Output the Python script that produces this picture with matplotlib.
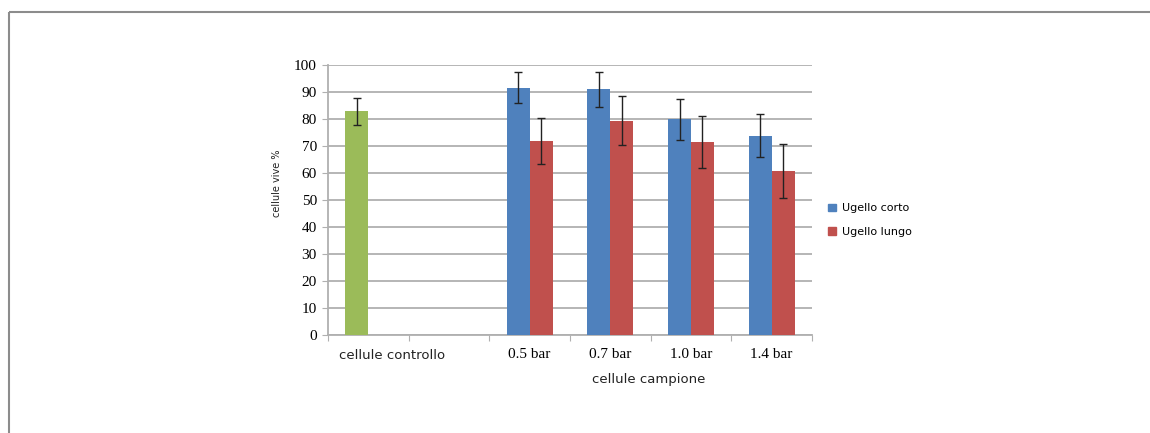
import numpy as np
import matplotlib.pyplot as plt
from matplotlib.patches import Patch
from matplotlib.lines import Line2D

# data
control_value = 82.7
control_err = 5.1
pressures = ["0.5 bar", "0.7 bar", "1.0 bar", "1.4 bar"]
corto = [91.5, 90.9, 79.8, 73.7]
corto_err = [5.7, 6.4, 7.5, 8.0]
lungo = [71.8, 79.3, 71.4, 60.8]
lungo_err = [8.5, 9.0, 9.5, 10.0]

green = "#9BBB59"
blue = "#4F81BD"
red = "#C0504D"
grid_col = "#B0B0B0"

fig = plt.figure(figsize=(11.5, 4.33), dpi=100)
W, H = 1150, 433
ax = fig.add_axes([328 / W, (H - 335) / H, (812 - 328) / W, (335 - 64.7) / H])

width = 0.285
slots = np.arange(len(pressures)) + 2.5

# control sample (first slot)
ax.bar(0.5 - width / 2, control_value, width, color=green, zorder=3)
ax.errorbar(0.5 - width / 2, control_value, yerr=control_err, fmt="none",
            ecolor="#222222", elinewidth=1, capsize=3, capthick=1, zorder=4)

ax.bar(slots - width / 2, corto, width, color=blue, zorder=3)
ax.bar(slots + width / 2, lungo, width, color=red, zorder=3)
ax.errorbar(slots - width / 2, corto, yerr=corto_err, fmt="none",
            ecolor="#222222", elinewidth=1, capsize=3, capthick=1, zorder=4)
ax.errorbar(slots + width / 2, lungo, yerr=lungo_err, fmt="none",
            ecolor="#222222", elinewidth=1, capsize=3, capthick=1, zorder=4)

ax.set_xlim(0, 6)
ax.set_ylim(0, 100)
ax.set_yticks(np.arange(0, 101, 10))
ax.yaxis.grid(True, color=grid_col, linewidth=1.3, zorder=0)
ax.set_axisbelow(True)

# category boundaries as ticks, labels in the middle
ax.set_xticks(np.arange(0, 7))
ax.set_xticklabels([])
ax.set_xticks(slots, minor=True)
ax.set_xticklabels(pressures, minor=True, family="Liberation Serif", fontsize=11)
ax.tick_params(axis="x", which="minor", length=0, pad=9)
ax.tick_params(axis="x", which="major", length=4, color=grid_col, direction="out")
ax.tick_params(axis="y", length=4, color=grid_col, pad=4)
for lab in ax.get_yticklabels():
    lab.set_family("Liberation Serif")
    lab.set_fontsize(11)

for s in ["top", "right"]:
    ax.spines[s].set_visible(False)
for s in ["left", "bottom"]:
    ax.spines[s].set_color(grid_col)
    ax.spines[s].set_linewidth(1.3)

ax.text(0.79, -0.075, "cellule controllo", transform=ax.get_xaxis_transform(),
        ha="center", va="center", family="DejaVu Sans", fontsize=9.5, color="#222222")
ax.text(3.97, -0.165, "cellule campione", transform=ax.get_xaxis_transform(),
        ha="center", va="center", family="DejaVu Sans", fontsize=9.5, color="#222222")

fig.text(277 / W, 1 - 183 / H, "cellule vive %", rotation=90, ha="center", va="center",
         fontsize=7, color="#222222")

handles = [Patch(color=blue, label="Ugello corto"), Patch(color=red, label="Ugello lungo")]
fig.legend(handles=handles, loc="center left", bbox_to_anchor=(818 / W, 1 - 220 / H),
           frameon=False, fontsize=8, handlelength=0.7, handleheight=0.7,
           handletextpad=0.6, labelspacing=1.2)

# grey frame: only its top and left edges fall inside the image
x0, y0 = 8.5 / W, 1 - 12 / H
fig.add_artist(Line2D([x0, 1.05], [y0, y0], transform=fig.transFigure,
                      color="#8C8C8C", linewidth=1.5, solid_capstyle="butt"))
fig.add_artist(Line2D([x0, x0], [-0.05, y0], transform=fig.transFigure,
                      color="#8C8C8C", linewidth=1.5, solid_capstyle="butt"))

fig.savefig("out.png", dpi=100, facecolor="white")
